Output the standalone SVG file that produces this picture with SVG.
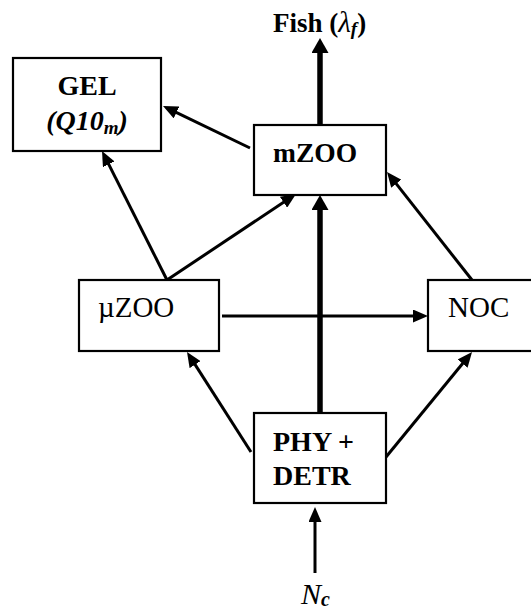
<svg xmlns="http://www.w3.org/2000/svg" width="531" height="609" viewBox="0 0 531 609">
  <style>
    .box { fill: #fff; stroke: #000; stroke-width: 2.2; }
    text { font-family: 'Liberation Serif', 'DejaVu Serif', serif; fill: #000; }
    .b { font-weight: bold; }
    .edge { stroke: #000; fill: none; stroke-width: 3; }
    .thick { stroke-width: 5.5; }
  </style>
  <defs>
    <marker id="ah" markerUnits="userSpaceOnUse" markerWidth="15" markerHeight="13" refX="5" refY="6.5" orient="auto">
      <path d="M0,0 L15,6.5 L0,13 z" fill="#000"/>
    </marker>
    <marker id="ahBig" markerUnits="userSpaceOnUse" markerWidth="15" markerHeight="17" refX="5" refY="8.5" orient="auto">
      <path d="M0,0 L15,8.5 L0,17 z" fill="#000"/>
    </marker>
  </defs>

  <!-- connectors -->
  <g id="connectors">
    <line class="edge thick" x1="320" y1="124" x2="320" y2="48" marker-end="url(#ahBig)"/>
    <line class="edge" x1="250" y1="148" x2="172" y2="110.3" marker-end="url(#ah)"/>
    <line class="edge" x1="167" y1="280" x2="106.5" y2="159.9" marker-end="url(#ah)"/>
    <line class="edge" x1="167" y1="280" x2="287.7" y2="199.5" marker-end="url(#ah)"/>
    <line class="edge" x1="472" y1="280" x2="393.2" y2="179.9" marker-end="url(#ah)"/>
    <line class="edge" x1="222" y1="316" x2="418" y2="316" marker-end="url(#ah)"/>
    <line class="edge thick" x1="320" y1="413" x2="320" y2="205" marker-end="url(#ahBig)"/>
    <line class="edge" x1="251" y1="452" x2="192.4" y2="360.4" marker-end="url(#ah)"/>
    <line class="edge" x1="386" y1="457" x2="465.7" y2="359.7" marker-end="url(#ah)"/>
    <line class="edge" x1="315" y1="573" x2="315" y2="517" marker-end="url(#ah)"/>
  </g>

  <!-- fish outflow label -->
  <g id="fish">
    <text class="b" x="273" y="32" font-size="27">Fish (<tspan font-style="italic" font-weight="normal" font-size="29">λ</tspan><tspan font-style="italic" font-size="19" dy="3">f</tspan><tspan dy="-3">)</tspan></text>
  </g>

  <g id="gel">
    <rect class="box" x="13" y="58" width="148" height="93"/>
    <text class="b" x="87" y="95" font-size="28" text-anchor="middle">GEL</text>
    <text class="b" x="87" y="130" font-size="28" text-anchor="middle" font-style="italic">(Q10<tspan font-size="19" dy="4">m</tspan><tspan dy="-4">)</tspan></text>
  </g>

  <g id="mzoo">
    <rect class="box" x="254" y="125" width="132" height="70"/>
    <text class="b" x="273" y="162" font-size="27.5">mZOO</text>
  </g>

  <g id="uzoo">
    <rect class="box" x="79" y="280" width="140" height="71"/>
    <text x="98" y="317" font-size="29">µZOO</text>
  </g>

  <g id="noc">
    <rect class="box" x="428" y="280" width="110" height="71"/>
    <text x="448" y="317" font-size="29">NOC</text>
  </g>

  <g id="phy">
    <rect class="box" x="254" y="413" width="132" height="90"/>
    <text class="b" x="273" y="451" font-size="28">PHY +</text>
    <text class="b" x="273" y="485" font-size="28">DETR</text>
  </g>

  <g id="nc">
    <text x="301" y="604" font-size="30" font-style="italic">N<tspan font-size="20" font-weight="bold" dy="2">c</tspan></text>
  </g>
</svg>
